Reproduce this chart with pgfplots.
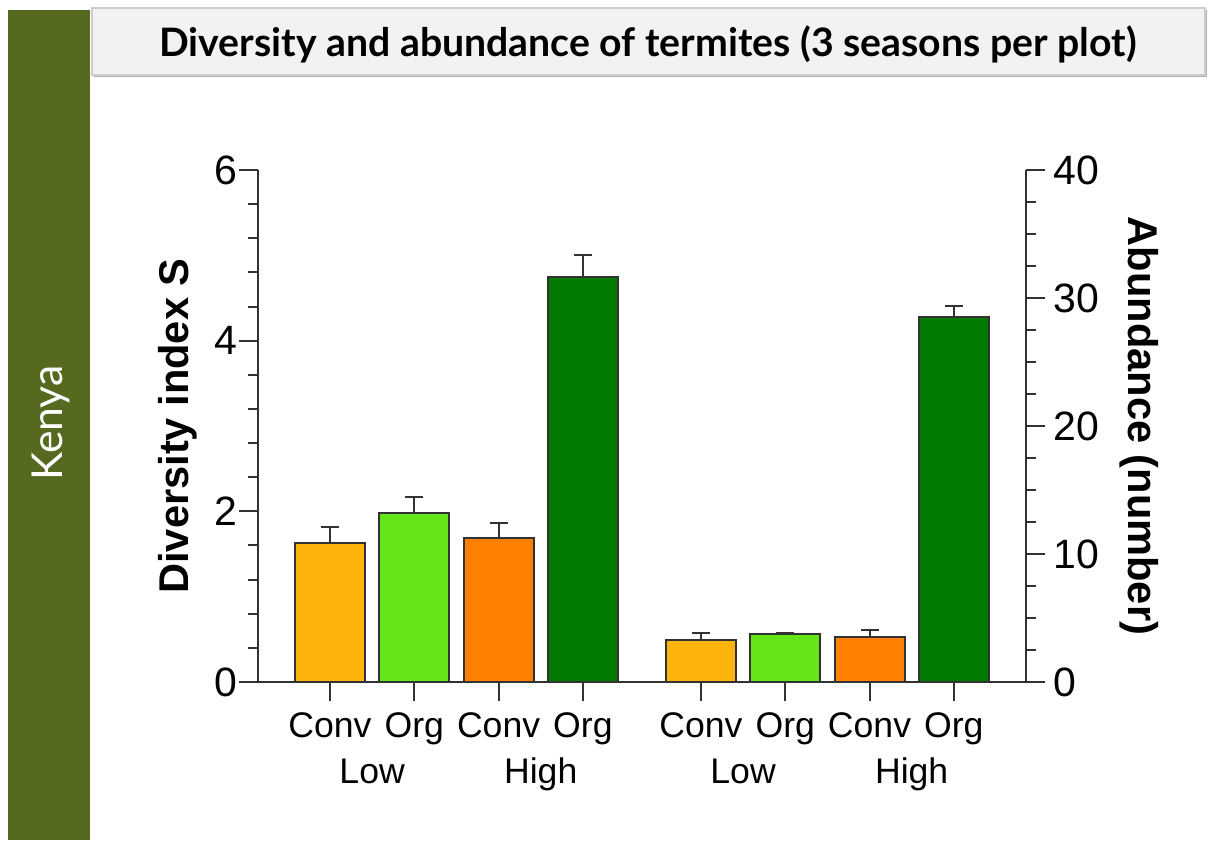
\documentclass[border=0pt]{standalone}
\usepackage{pgfplots}
\pgfplotsset{compat=1.18}
\usepackage{fontspec}
\setmainfont{Liberation Sans}
\newfontfamily\titlefont{Lato}
\definecolor{side}{RGB}{85,106,31}
\definecolor{cYel}{RGB}{252,180,12}
\definecolor{cLG}{RGB}{102,230,25}
\definecolor{cOr}{RGB}{255,128,0}
\definecolor{cDG}{RGB}{0,122,0}
\definecolor{axc}{RGB}{50,50,50}
\definecolor{boxbg}{RGB}{242,242,242}

\begin{document}
\begin{tikzpicture}
\path[use as bounding box, fill=white] (0,0) rectangle (605.5pt,-421.5pt);
\fill[side] (4pt,-5pt) rectangle (45pt,-420pt);
\node[rotate=90, text=white, font=\titlefont\fontsize{21.3}{25}\selectfont] at (25.5pt,-211.5pt) {Kenya};
\fill[black!30] (47pt,-5pt) rectangle (603.5pt,-38.5pt);
\filldraw[fill=boxbg, draw=black!20, line width=0.6pt] (46pt,-4pt) rectangle (602.5pt,-37.5pt);
\node[font=\titlefont\bfseries\fontsize{19.6}{23}\selectfont] at (324pt,-22pt) {Diversity and abundance of termites (3 seasons per plot)};

\pgfplotsset{common/.style={scale only axis, width=384pt, height=256pt,
  at={(129pt,-341pt)}, anchor=south west,
  xmin=-0.854, xmax=8.256, ymin=0, enlargelimits=false,
  ybar, bar shift=0pt, bar width=35pt,
  tick align=outside, major tick length=9.5pt, minor tick length=5pt,
  every tick/.style={axc, line width=1pt},
  axis line style={axc, line width=1.2pt, -},
  xticklabel style={font=\fontsize{17.8}{21}\selectfont, yshift=-2.5pt},
  yticklabel style={font=\fontsize{20.5}{24}\selectfont},
  label style={font=\bfseries\fontsize{20.8}{24}\selectfont},
  /pgf/number format/assume math mode=true, clip=false,
  error bars/y dir=plus, error bars/y explicit,
  error bars/error bar style={axc, line width=1pt},
  error bars/error mark options={rotate=90, mark size=4.5pt, line width=1pt, axc}}}

\begin{axis}[common, ymax=6, ytick={0,2,4,6}, minor y tick num=4,
  axis y line*=left, axis x line*=bottom,
  yticklabel style={xshift=2.6pt},
  xtick={0,1,2,3,4.4,5.4,6.4,7.4},
  xticklabels={Conv,Org,Conv,Org,Conv,Org,Conv,Org},
  ylabel={Diversity index S},
  ylabel style={at={(axis description cs:-0.104,0.5)}, anchor=center}]
\addplot[fill=cYel, draw=axc, line width=1pt] coordinates {(0,1.63) +- (0,0.19)};
\addplot[fill=cLG, draw=axc, line width=1pt] coordinates {(1,1.98) +- (0,0.19)};
\addplot[fill=cOr, draw=axc, line width=1pt] coordinates {(2,1.69) +- (0,0.17)};
\addplot[fill=cDG, draw=axc, line width=1pt] coordinates {(3,4.75) +- (0,0.25)};
\node[font=\fontsize{17.8}{21}\selectfont, anchor=base] at (axis cs:0.5,0) [yshift=-50.5pt] {Low};
\node[font=\fontsize{17.8}{21}\selectfont, anchor=base] at (axis cs:2.5,0) [yshift=-50.5pt] {High};
\node[font=\fontsize{17.8}{21}\selectfont, anchor=base] at (axis cs:4.9,0) [yshift=-50.5pt] {Low};
\node[font=\fontsize{17.8}{21}\selectfont, anchor=base] at (axis cs:6.9,0) [yshift=-50.5pt] {High};
\end{axis}

\begin{axis}[common, ymax=40, ytick={0,10,20,30,40}, minor y tick num=3,
  axis y line*=right, axis x line=none, xtick=\empty,
  yticklabel style={xshift=0.9pt},
  ylabel={Abundance (number)},
  ylabel style={at={(axis description cs:1.148,0.5)}, anchor=center, rotate=180}]
\addplot[fill=cYel, draw=axc, line width=1pt] coordinates {(4.4,3.26) +- (0,0.59)};
\addplot[fill=cLG, draw=axc, line width=1pt] coordinates {(5.4,3.73) +- (0,0.12)};
\addplot[fill=cOr, draw=axc, line width=1pt] coordinates {(6.4,3.52) +- (0,0.54)};
\addplot[fill=cDG, draw=axc, line width=1pt] coordinates {(7.4,28.5) +- (0,0.85)};
\end{axis}
\end{tikzpicture}
\end{document}
